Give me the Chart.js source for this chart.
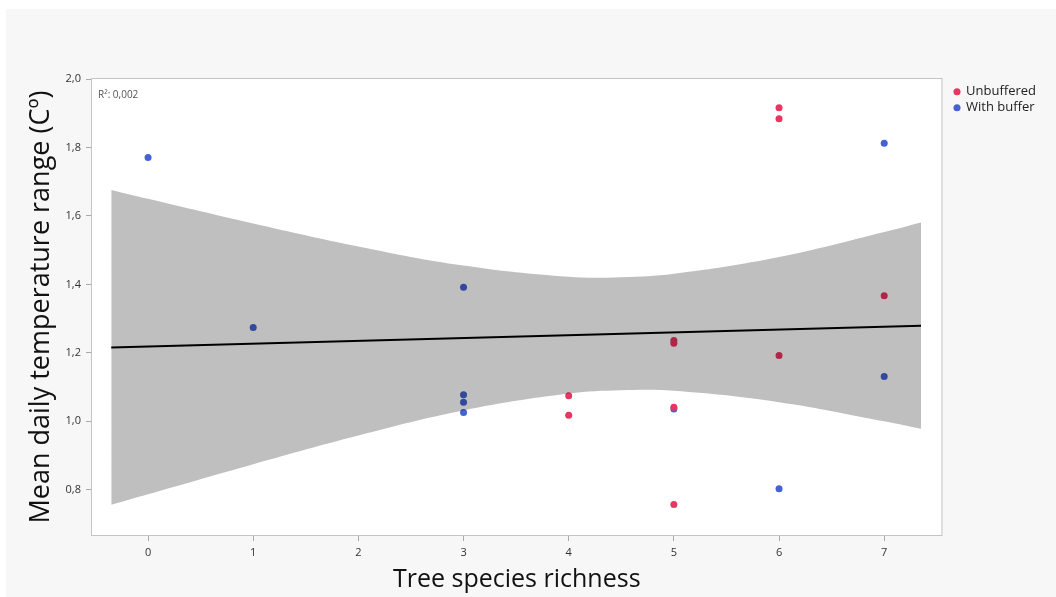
<!DOCTYPE html>
<html>
<head>
<meta charset="utf-8">
<script src="https://cdn.jsdelivr.net/npm/chart.js@4.4.1/dist/chart.umd.min.js"></script>
<style>
  html, body { margin: 0; background: #fff; }
  #wrap { position: absolute; left: 6px; top: 9px; width: 1050px; height: 588px; background: #f7f7f7; }
</style>
</head>
<body>
<div id="wrap"><canvas id="chart" width="1050" height="588"></canvas></div>
<script>
// tick positions
const richnessTicks = [0, 1, 2, 3, 4, 5, 6, 7];
const rangeTicks = [0.8, 1.0, 1.2, 1.4, 1.6, 1.8, 2.0];

// unbuffered loggers
const unbufferedX = [4, 4, 5, 5, 5, 5, 6, 6, 6, 7];
const unbufferedY = [1.075, 1.018, 1.236, 1.228, 1.041, 0.757, 1.916, 1.884, 1.192, 1.367];

// loggers with buffer
const bufferX = [0, 1, 3, 3, 3, 3, 5, 6, 7, 7];
const bufferY = [1.771, 1.274, 1.392, 1.078, 1.056, 1.026, 1.036, 0.803, 1.812, 1.131];

// linear fit and its confidence band
const fitX = [-0.35, 7.35];
const fitY = [1.2155, 1.2794];
const bandX = [-0.35, 0, 1, 2, 3, 4, 4.5, 5, 6, 7, 7.35];
const bandUpper = [1.676, 1.650, 1.578, 1.511, 1.455, 1.422, 1.421, 1.431, 1.480, 1.553, 1.581];
const bandLower = [0.756, 0.787, 0.875, 0.959, 1.032, 1.081, 1.091, 1.089, 1.056, 1.000, 0.978];
const rSquared = '0,002';

const pts = (xs, ys) => xs.map((x, i) => ({ x, y: ys[i] }));
const comma = (v, d) => v.toFixed(d).replace('.', ',');

Chart.defaults.font.family = "'Open Sans', sans-serif";

const plotFrame = {
  id: 'plotFrame',
  beforeDraw(chart) {
    const { ctx, chartArea: a } = chart;
    ctx.save();
    ctx.fillStyle = '#fff';
    ctx.fillRect(a.left, a.top, a.width, a.height);
    ctx.restore();
  },
  afterDraw(chart) {
    const { ctx, chartArea: a } = chart;
    ctx.save();
    ctx.strokeStyle = '#c4c4c4';
    ctx.lineWidth = 1;
    ctx.strokeRect(a.left - 0.5, a.top - 0.5, a.width + 1, a.height + 1);
    ctx.fillStyle = '#555';
    ctx.font = "10px 'Open Sans', sans-serif";
    ctx.textBaseline = 'middle';
    ctx.fillText('R\u00b2: ' + rSquared, a.left + 6, a.top + 16);
    ctx.restore();
  }
};

new Chart(document.getElementById('chart'), {
  type: 'scatter',
  data: {
    datasets: [
      {
        type: 'line', label: 'Fit', data: pts(fitX, fitY), order: 0,
        borderColor: '#000', borderWidth: 2, pointRadius: 0, fill: false
      },
      {
        type: 'line', label: 'Upper', data: pts(bandX, bandUpper), order: 1,
        borderColor: 'rgba(0,0,0,0)', borderWidth: 0, pointRadius: 0, tension: 0.4,
        fill: '+1', backgroundColor: 'rgba(0,0,0,0.25)'
      },
      {
        type: 'line', label: 'Lower', data: pts(bandX, bandLower), order: 2,
        borderColor: 'rgba(0,0,0,0)', borderWidth: 0, pointRadius: 0, tension: 0.4, fill: false
      },
      {
        label: 'Unbuffered', data: pts(unbufferedX, unbufferedY), order: 3,
        backgroundColor: '#ea3560', borderWidth: 0, pointRadius: 3.5
      },
      {
        label: 'With buffer', data: pts(bufferX, bufferY), order: 4,
        backgroundColor: '#4462d3', borderWidth: 0, pointRadius: 3.5
      }
    ]
  },
  options: {
    responsive: false,
    animation: false,
    events: [],
    layout: { padding: { top: 70, right: 10, bottom: 0, left: 0 } },
    plugins: {
      tooltip: { enabled: false },
      legend: {
        position: 'right',
        align: 'start',
        // empty title just nudges the entries down a little
        title: { display: true, text: ' ', font: { size: 1 }, padding: { top: 1, bottom: 1 } },
        labels: {
          filter: (item) => item.datasetIndex >= 3,
          usePointStyle: true,
          pointStyle: 'circle',
          boxWidth: 5,
          boxHeight: 5,
          padding: 3,
          color: '#222',
          font: { size: 13 }
        }
      }
    },
    scales: {
      x: {
        type: 'linear',
        min: -0.533,
        max: 7.545,
        afterFit: (s) => { s.height = 62; },
        afterBuildTicks: (s) => { s.ticks = richnessTicks.map((v) => ({ value: v })); },
        ticks: { color: '#333', font: { size: 11 }, padding: 5, callback: (v) => String(v) },
        grid: { drawOnChartArea: false, tickLength: 6, tickColor: '#aaa' },
        border: { display: false },
        title: {
          display: true, text: 'Tree species richness', color: '#111',
          font: { size: 25 }, padding: { top: 0, bottom: 2 }
        }
      },
      y: {
        type: 'linear',
        min: 0.668,
        max: 2.0,
        afterFit: (s) => { s.width = 86; },
        afterBuildTicks: (s) => { s.ticks = rangeTicks.map((v) => ({ value: v })); },
        ticks: { color: '#333', font: { size: 11 }, padding: 5, callback: (v) => comma(v, 1) },
        grid: { drawOnChartArea: false, tickLength: 6, tickColor: '#aaa' },
        border: { display: false },
        title: {
          display: true, text: 'Mean daily temperature range (C\u00ba)', color: '#111',
          font: { size: 27 }, padding: { top: 19, bottom: 0 }
        }
      },
      gap: {
        type: 'linear',
        position: 'right',
        afterFit: (s) => { s.width = 10; },
        ticks: { display: false },
        grid: { display: false },
        border: { display: false }
      }
    }
  },
  plugins: [plotFrame]
});
</script>
</body>
</html>
